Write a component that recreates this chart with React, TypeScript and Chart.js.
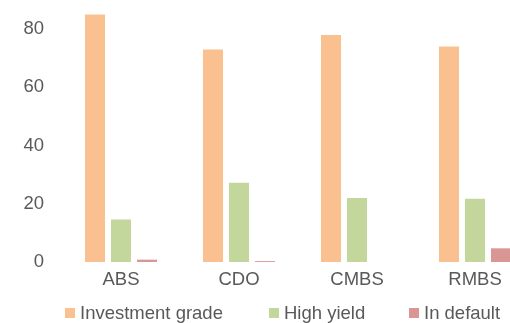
import React, { useEffect, useRef } from "react";
import { Chart, registerables } from "chart.js";

Chart.register(...registerables);

const categories = ["ABS", "CDO", "CMBS", "RMBS"];
const investmentGrade = [85, 73, 78, 74];
const highYield = [14.6, 27.2, 22, 21.7];
const inDefault = [0.8, 0.3, 0, 4.7];
const seriesNames = ["Investment grade", "High yield", "In default"];
const seriesColors = ["#FAC090", "#C3D69B", "#D99694"];

const FONT = "'Liberation Sans', Arial, sans-serif";
const TEXT = "#595959";
const FS = 18.5;

export default function App() {
  const ref = useRef<HTMLCanvasElement | null>(null);

  useEffect(() => {
    document.body.style.margin = "0";
    document.body.style.overflow = "hidden";
    const ctx = ref.current!;
    const data = [investmentGrade, highYield, inDefault];
    const chart = new Chart(ctx, {
      type: "bar",
      data: {
        labels: categories,
        datasets: data.map((d, i) => ({
          label: seriesNames[i],
          data: d,
          backgroundColor: seriesColors[i],
          borderWidth: 0,
          categoryPercentage: 0.661,
          barPercentage: 0.77,
        })),
      },
      options: {
        animation: false,
        responsive: false,
        maintainAspectRatio: false,
        layout: { padding: { left: 23, right: 6, top: 0, bottom: 0 } },
        plugins: {
          legend: { display: false },
          tooltip: { enabled: false },
        },
        scales: {
          x: {
            grid: { display: false, drawTicks: false },
            border: { display: false },
            afterFit: (s: any) => {
              s.height = 61;
              s.paddingLeft = 0;
              s.paddingRight = 0;
            },
            ticks: {
              padding: 7,
              color: TEXT,
              font: { family: FONT, size: FS },
            },
          },
          y: {
            min: 0,
            max: 90,
            grid: { display: false, drawTicks: false },
            border: { display: false },
            afterBuildTicks: (scale: any) => {
              scale.ticks = scale.ticks.filter((t: any) => t.value <= 80);
            },
            afterFit: (s: any) => {
              s.width = 39;
              s.paddingTop = 0;
              s.paddingBottom = 0;
            },
            ticks: {
              stepSize: 20,
              padding: 18,
              color: TEXT,
              font: { family: FONT, size: FS },
            },
          },
        },
      },
    });
    return () => chart.destroy();
  }, []);

  return (
    <div style={{ position: "absolute", left: 0, top: 0, width: 510, height: 323, overflow: "hidden" }}>
      <canvas ref={ref} width={540} height={323} style={{ position: "absolute", left: 0, top: 0 }} />
      {seriesNames.map((name, i) => (
        <div
          key={name}
          style={{
            position: "absolute",
            top: 302,
            left: [65, 269, 409][i],
            display: "flex",
            alignItems: "center",
            fontFamily: FONT,
            fontSize: FS,
            color: TEXT,
            lineHeight: "21px",
            whiteSpace: "nowrap",
          }}
        >
          <span style={{ display: "inline-block", width: 10, height: 10, background: seriesColors[i], marginRight: 5 }} />
          <span>{name}</span>
        </div>
      ))}
    </div>
  );
}
